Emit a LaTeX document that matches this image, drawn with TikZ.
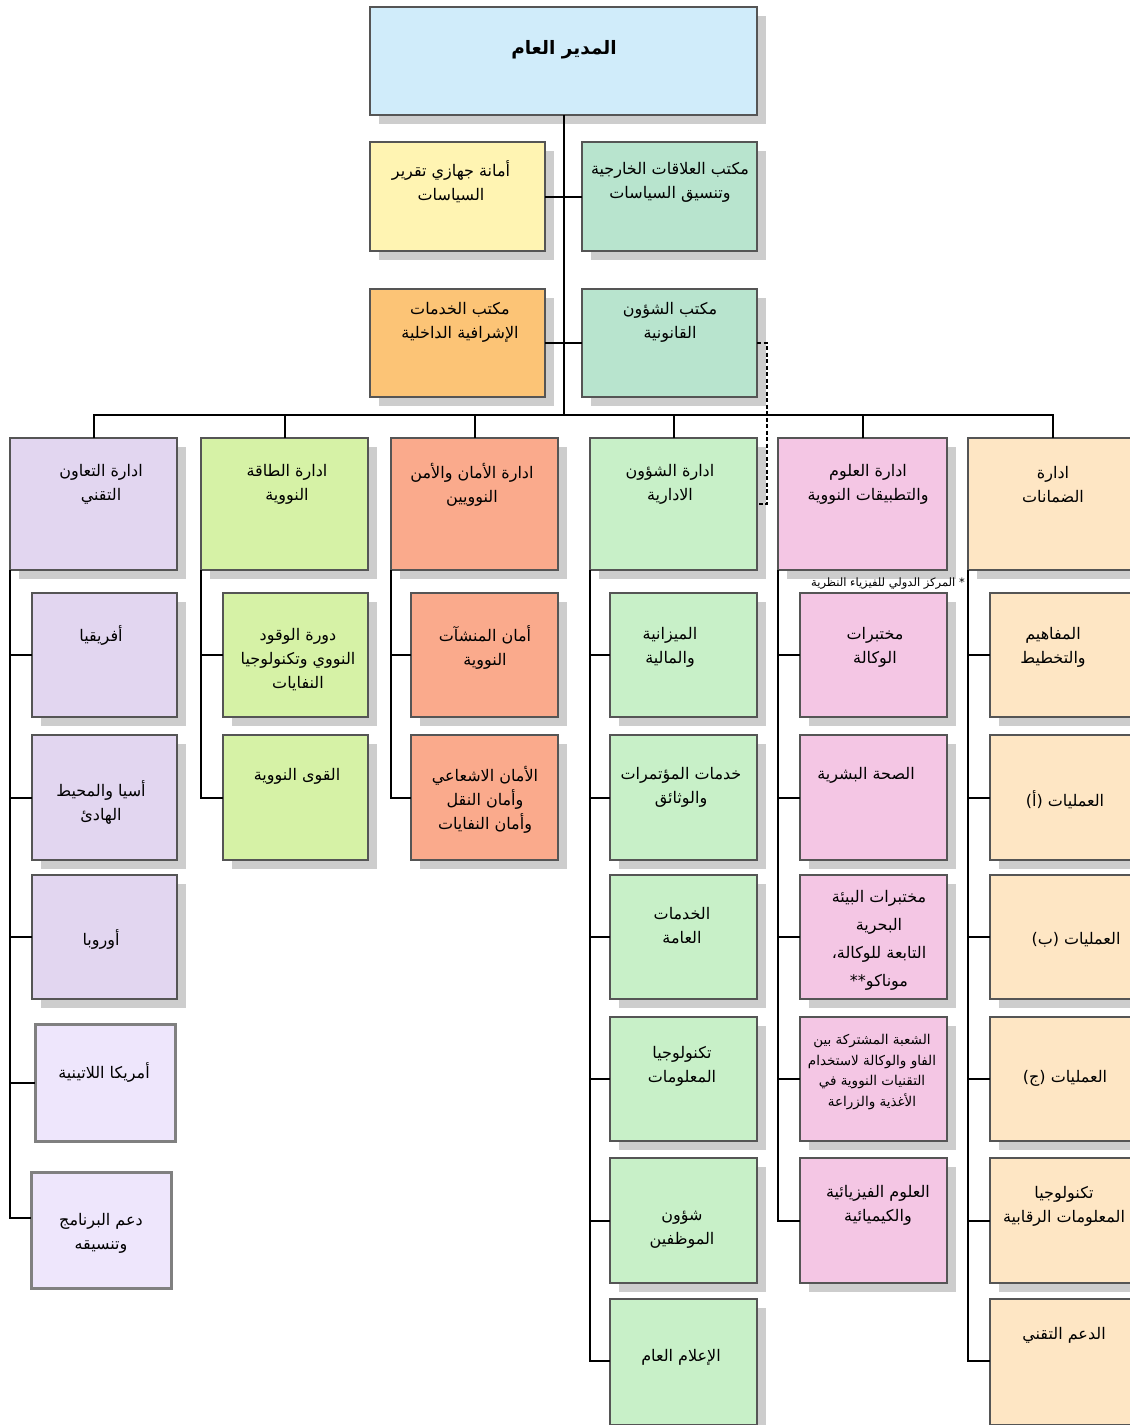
\documentclass[tikz,border=0pt]{standalone}
\usepackage{fontspec}
\newfontfamily\arabicfont[Script=Arabic]{DejaVu Sans}
\TeXXeTstate=1
\usetikzlibrary{shadows,calc}
\newcommand{\ar}[1]{\beginR #1\endR}
\newcommand{\mkbox}[6]{\node[box,#6,minimum width={#4-#2},minimum height={#5-#3}] (#1) at ({(#2+#4)/2},{(#3+#5)/2}) {};}
\definecolor{topc}{RGB}{208,236,250}
\definecolor{yelc}{RGB}{255,244,178}
\definecolor{mintc}{RGB}{184,228,206}
\definecolor{orac}{RGB}{252,196,118}
\definecolor{lavc}{RGB}{226,214,240}
\definecolor{latc}{RGB}{238,230,252}
\definecolor{enc}{RGB}{214,242,166}
\definecolor{safc}{RGB}{250,170,140}
\definecolor{mgc}{RGB}{200,240,200}
\definecolor{scic}{RGB}{244,198,228}
\definecolor{sgc}{RGB}{254,230,196}
\definecolor{bordc}{RGB}{85,85,85}
\definecolor{shc}{RGB}{205,205,205}
\tikzset{
  box/.style={draw=bordc,line width=1.4pt,inner sep=0pt,outer sep=0pt,
    drop shadow={shadow xshift=9pt,shadow yshift=-9pt,fill=shc,opacity=1}},
  flatbox/.style={draw=gray,line width=3pt,inner sep=0pt,outer sep=0pt},
  txt/.style={font=\arabicfont\fontsize{16}{24}\selectfont,align=center,inner sep=0pt,yshift=-2.5pt},
  smalltxt/.style={font=\arabicfont\fontsize{13.5}{20.7}\selectfont,align=center,inner sep=0pt,yshift=-2pt},
  conn/.style={line width=2pt,black},
}
\begin{document}
\begin{tikzpicture}[x=1pt,y=-1pt]
\useasboundingbox (0,0) rectangle (1130,1425);
\clip (0,0) rectangle (1130,1425);
% boxes
\mkbox{top}{370}{7}{757}{115}{fill=topc}
\mkbox{r2l}{370}{142}{545}{251}{fill=yelc}
\mkbox{r2r}{582}{142}{757}{251}{fill=mintc}
\mkbox{r3l}{370}{289}{545}{397}{fill=orac}
\mkbox{r3r}{582}{289}{757}{397}{fill=mintc}
\mkbox{d1}{10}{438}{177}{570}{fill=lavc}
\mkbox{d2}{201}{438}{368}{570}{fill=enc}
\mkbox{d3}{391}{438}{558}{570}{fill=safc}
\mkbox{d4}{590}{438}{757}{570}{fill=mgc}
\mkbox{d5}{778}{438}{947}{570}{fill=scic}
\mkbox{d6}{968}{438}{1138}{570}{fill=sgc}
% column 1
\mkbox{a1}{32}{593}{177}{717}{fill=lavc}
\mkbox{a2}{32}{735}{177}{860}{fill=lavc}
\mkbox{a3}{32}{875}{177}{999}{fill=lavc}
\node[flatbox,fill=latc,minimum width=140,minimum height=117] (a4) at (105,1082.5) {};
\node[flatbox,fill=latc,minimum width=140,minimum height=116] (a5) at (101,1230) {};
% column 2
\mkbox{b1}{223}{593}{368}{717}{fill=enc}
\mkbox{b2}{223}{735}{368}{860}{fill=enc}
% column 3
\mkbox{c1}{411}{593}{558}{717}{fill=safc}
\mkbox{c2}{411}{735}{558}{860}{fill=safc}
% column 4
\mkbox{m1}{610}{593}{757}{717}{fill=mgc}
\mkbox{m2}{610}{735}{757}{860}{fill=mgc}
\mkbox{m3}{610}{875}{757}{999}{fill=mgc}
\mkbox{m4}{610}{1017}{757}{1141}{fill=mgc}
\mkbox{m5}{610}{1158}{757}{1283}{fill=mgc}
\mkbox{m6}{610}{1299}{757}{1425}{fill=mgc}
% column 5
\mkbox{s1}{800}{593}{947}{717}{fill=scic}
\mkbox{s2}{800}{735}{947}{860}{fill=scic}
\mkbox{s3}{800}{875}{947}{999}{fill=scic}
\mkbox{s4}{800}{1017}{947}{1141}{fill=scic}
\mkbox{s5}{800}{1158}{947}{1283}{fill=scic}
% column 6
\mkbox{g1}{990}{593}{1138}{717}{fill=sgc}
\mkbox{g2}{990}{735}{1138}{860}{fill=sgc}
\mkbox{g3}{990}{875}{1138}{999}{fill=sgc}
\mkbox{g4}{990}{1017}{1138}{1141}{fill=sgc}
\mkbox{g5}{990}{1158}{1138}{1283}{fill=sgc}
\mkbox{g6}{990}{1299}{1138}{1425}{fill=sgc}
% connectors
\coordinate (bus) at (564,415);
\draw[conn] (top.south) -- (top.south |- bus);
\draw[conn] (r2l.east) -- (r2r.west);
\draw[conn] (r3l.east) -- (r3r.west);
\draw[conn] (d1.north) |- (d6.north |- bus) -- (d6.north);
\foreach \d in {d2,d3,d4,d5} {\draw[conn] (\d.north) -- (\d.north |- bus);}
\draw[conn,line width=1.6pt,dash pattern=on 4pt off 2.5pt] (r3r.east) -- ++(10,0) |- (d4.east);
\foreach \s in {a1,a2,a3,a4} {\draw[conn] (d1.south west) |- (\s.west);}
\draw[conn] (d1.south west) |- ($(a5.west)+(0,-12)$);
\foreach \s in {b1,b2} {\draw[conn] (d2.south west) |- (\s.west);}
\foreach \s in {c1,c2} {\draw[conn] (d3.south west) |- (\s.west);}
\foreach \s in {m1,m2,m3,m4,m5} {\draw[conn] (d4.south west) |- (\s.west);}
\draw[conn] (d4.south west) |- (610,1361);
\foreach \s in {s1,s2,s3,s4,s5} {\draw[conn] (d5.south west) |- (\s.west);}
\foreach \s in {g1,g2,g3,g4,g5} {\draw[conn] (d6.south west) |- (\s.west);}
\draw[conn] (d6.south west) |- (990,1361);
% texts
\node[txt,font=\arabicfont\bfseries\fontsize{18.5}{24}\selectfont] (ttop) at (564,47) {\ar{المدير العام}};
\node[txt] (tr2r) at (670,179.5) {\ar{مكتب العلاقات الخارجية}\\\ar{وتنسيق السياسات}};
\node[txt] (tr2l) at (451,179.5) {\ar{أمانة جهازي تقرير}\\\ar{السياسات}};
\node[txt] (tr3r) at (670,319.5) {\ar{مكتب الشؤون}\\\ar{القانونية}};
\node[txt] (tr3l) at (460,319.5) {\ar{مكتب الخدمات}\\\ar{الإشرافية الداخلية}};
\node[txt] (td1) at (101,482) {\ar{ادارة التعاون}\\\ar{التقني}};
\node[txt] (td2) at (287,482) {\ar{ادارة الطاقة}\\\ar{النووية}};
\node[txt] (td3) at (472,482) {\ar{ادارة الأمان والأمن}\\\ar{النوويين}};
\node[txt] (td4) at (670,482) {\ar{ادارة الشؤون}\\\ar{الادارية}};
\node[txt] (td5) at (868,482) {\ar{ادارة العلوم}\\\ar{والتطبيقات النووية}};
\node[txt] (td6) at (1053,482) {\ar{ادارة}\\\ar{الضمانات}};
\node[txt] (ta1) at (101,633) {\ar{أفريقيا}};
\node[txt] (ta2) at (101,800) {\ar{أسيا والمحيط}\\\ar{الهادئ}};
\node[txt] (ta3) at (101,937) {\ar{أوروبا}};
\node[txt] (ta4) at (104,1070) {\ar{أمريكا اللاتينية}};
\node[txt] (ta5) at (101,1230.5) {\ar{دعم البرنامج}\\\ar{وتنسيقه}};
\node[txt] (tb1) at (298,657.5) {\ar{دورة الوقود}\\\ar{النووي وتكنولوجيا}\\\ar{النفايات}};
\node[txt] (tb2) at (297,774) {\ar{القوى النووية}};
\node[txt] (tc1) at (485,645) {\ar{أمان المنشآت}\\\ar{النووية}};
\node[txt] (tc2) at (485,797) {\ar{الأمان الاشعاعي}\\\ar{وأمان النقل}\\\ar{وأمان النفايات}};
\node[txt] (tm1) at (670,645) {\ar{الميزانية}\\\ar{والمالية}};
\node[txt] (tm2) at (681,785) {\ar{خدمات المؤتمرات}\\\ar{والوثائق}};
\node[txt] (tm3) at (682,923.5) {\ar{الخدمات}\\\ar{العامة}};
\node[txt] (tm4) at (682,1063.5) {\ar{تكنولوجيا}\\\ar{المعلومات}};
\node[txt] (tm5) at (682,1227.5) {\ar{شؤون}\\\ar{الموظفين}};
\node[txt] (tm6) at (681,1355) {\ar{الإعلام العام}};
\node[txt] (ts1) at (875,644.5) {\ar{مختبرات}\\\ar{الوكالة}};
\node[txt] (ts2) at (866,773) {\ar{الصحة البشرية}};
\node[txt,font=\arabicfont\fontsize{16}{28}\selectfont] (ts3) at (879,937.5) {\ar{مختبرات البيئة}\\\ar{البحرية}\\\ar{التابعة للوكالة،}\\\ar{موناكو**}};
\node[smalltxt] (ts4) at (872,1070) {\ar{الشعبة المشتركة بين}\\\ar{الفاو والوكالة لاستخدام}\\\ar{التقنيات النووية في}\\\ar{الأغذية والزراعة}};
\node[txt] (ts5) at (878,1203) {\ar{العلوم الفيزيائية}\\\ar{والكيميائية}};
\node[txt] (tg1) at (1053,644.5) {\ar{المفاهيم}\\\ar{والتخطيط}};
\node[txt] (tg2) at (1065,797) {\ar{العمليات (أ)}};
\node[txt] (tg3) at (1076,937) {\ar{العمليات (ب)}};
\node[txt] (tg4) at (1065,1076) {\ar{العمليات (ج)}};
\node[txt] (tg5) at (1064,1203.5) {\ar{تكنولوجيا}\\\ar{المعلومات الرقابية}};
\node[txt] (tg6) at (1064,1333) {\ar{الدعم التقني}};
\node[txt,font=\arabicfont\fontsize{11.5}{14}\selectfont,anchor=east] (foot) at (965,581) {\ar{* المركز الدولي للفيزياء النظرية}};
\end{tikzpicture}
\end{document}
